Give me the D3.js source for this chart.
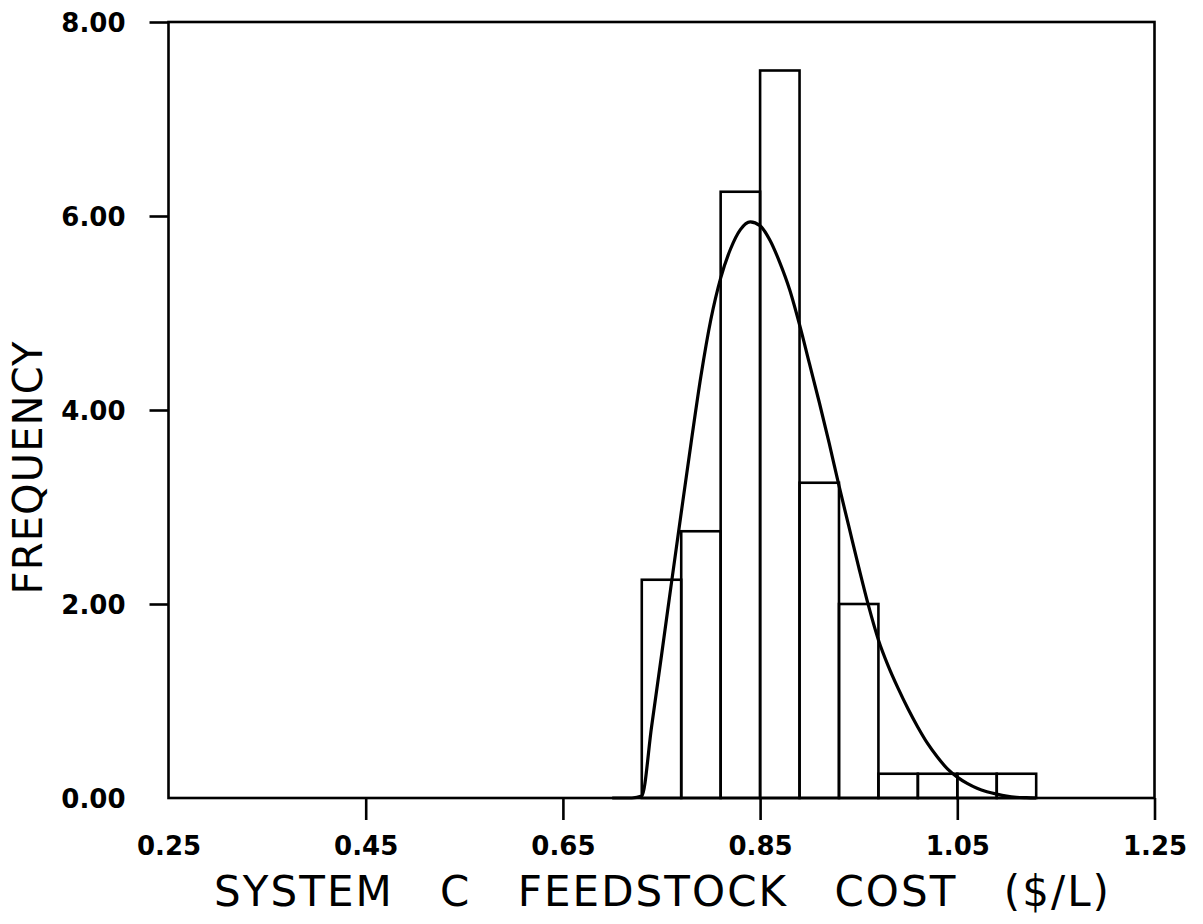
<!DOCTYPE html>
<html>
<head>
<meta charset="utf-8">
<script src="https://cdn.jsdelivr.net/npm/d3@7"></script>
<style>
  body { margin: 0; background: #fff; }
  svg { display: block; }
</style>
</head>
<body>
<div id="chart"></div>
<script>
// bin edges of the histogram ($/L)
const binStarts = [0.73, 0.77, 0.81, 0.85, 0.89, 0.93, 0.97, 1.01, 1.05, 1.09];
const binWidth = 0.04;
const binHeights = [2.25, 2.75, 6.25, 7.5, 3.25, 2.0, 0.25, 0.25, 0.25, 0.25];

// fitted curve
const curveX = [0.70, 0.72, 0.73, 0.74, 0.75, 0.76, 0.77, 0.78, 0.79, 0.80, 0.81, 0.82, 0.83, 0.84, 0.85,
  0.86, 0.87, 0.88, 0.89, 0.90, 0.91, 0.92, 0.93, 0.94, 0.95, 0.96, 0.97, 0.98, 0.99, 1.00,
  1.01, 1.02, 1.03, 1.04, 1.05, 1.06, 1.07, 1.08, 1.09, 1.10, 1.11, 1.12, 1.13];
const curveY = [0, 0, 0.02, 0.74, 1.47, 2.21, 2.94, 3.66, 4.35, 4.93, 5.36, 5.66, 5.86, 5.94, 5.90,
  5.75, 5.52, 5.24, 4.88, 4.48, 4.08, 3.66, 3.22, 2.80, 2.38, 1.98, 1.63, 1.36, 1.13, 0.92,
  0.73, 0.56, 0.42, 0.30, 0.215, 0.15, 0.10, 0.065, 0.04, 0.02, 0.008, 0.003, 0];

const xTicks = [0.25, 0.45, 0.65, 0.85, 1.05, 1.25];
const yTicks = [0, 2, 4, 6, 8];

const W = 1203, H = 924;
const plotL = 168.5, plotR = 1154.5, plotT = 22, plotB = 798;

const svg = d3.select('#chart').append('svg')
  .attr('width', W)
  .attr('height', H);

const x = d3.scaleLinear().domain([0.25, 1.25]).range([plotL, plotR]);
const y = d3.scaleLinear().domain([0, 8]).range([plotB, plotT]);

// bars (outlined, no fill)
svg.append('g')
  .selectAll('rect')
  .data(binStarts)
  .enter()
  .append('rect')
  .attr('x', d => x(d))
  .attr('y', (d, i) => y(binHeights[i]))
  .attr('width', d => x(d + binWidth) - x(d))
  .attr('height', (d, i) => y(0) - y(binHeights[i]))
  .attr('fill', 'none')
  .attr('stroke', '#000')
  .attr('stroke-width', 2.6);

// curve
const line = d3.line()
  .x(d => x(d[0]))
  .y(d => y(d[1]))
  .curve(d3.curveMonotoneX);

svg.append('path')
  .datum(d3.zip(curveX, curveY))
  .attr('d', line)
  .attr('fill', 'none')
  .attr('stroke', '#000')
  .attr('stroke-width', 3.2);

// frame
svg.append('rect')
  .attr('x', plotL)
  .attr('y', plotT)
  .attr('width', plotR - plotL)
  .attr('height', plotB - plotT)
  .attr('fill', 'none')
  .attr('stroke', '#000')
  .attr('stroke-width', 2.6);

// axes
const xAxis = svg.append('g')
  .attr('transform', `translate(0,${plotB})`)
  .call(d3.axisBottom(x).tickValues(xTicks).tickSize(22).tickSizeOuter(0).tickPadding(17).tickFormat(d3.format('.2f')));

const yAxis = svg.append('g')
  .attr('transform', `translate(${plotL},0)`)
  .call(d3.axisLeft(y).tickValues(yTicks).tickSize(19).tickSizeOuter(0).tickPadding(24).tickFormat(d3.format('.2f')));

[xAxis, yAxis].forEach(ax => {
  ax.select('.domain').remove();
  ax.selectAll('line').attr('stroke', '#000').attr('stroke-width', 2.6);
  ax.selectAll('text')
    .attr('fill', '#000')
    .style('font-family', '"DejaVu Sans", sans-serif')
    .style('font-weight', 'bold')
    .style('font-size', '26px');
});
// no ticks at the corner
xAxis.selectAll('.tick').filter(d => d === 0.25).select('line').remove();
yAxis.selectAll('.tick').filter(d => d === 0).select('line').remove();
yAxis.selectAll('text').attr('dy', '0.36em');

// axis titles
svg.append('text')
  .attr('x', (plotL + plotR) / 2)
  .attr('y', 906)
  .attr('text-anchor', 'middle')
  .attr('textLength', 895)
  .attr('lengthAdjust', 'spacing')
  .style('font-family', '"DejaVu Sans", sans-serif')
  .style('font-size', '42px')
  .style('white-space', 'pre')
  .text('SYSTEM   C   FEEDSTOCK   COST   ($/L)');

svg.append('text')
  .attr('transform', 'translate(42,468) rotate(-90)')
  .attr('text-anchor', 'middle')
  .attr('textLength', 253)
  .attr('lengthAdjust', 'spacing')
  .style('font-family', '"DejaVu Sans", sans-serif')
  .style('font-size', '40px')
  .text('FREQUENCY');
</script>
</body>
</html>
